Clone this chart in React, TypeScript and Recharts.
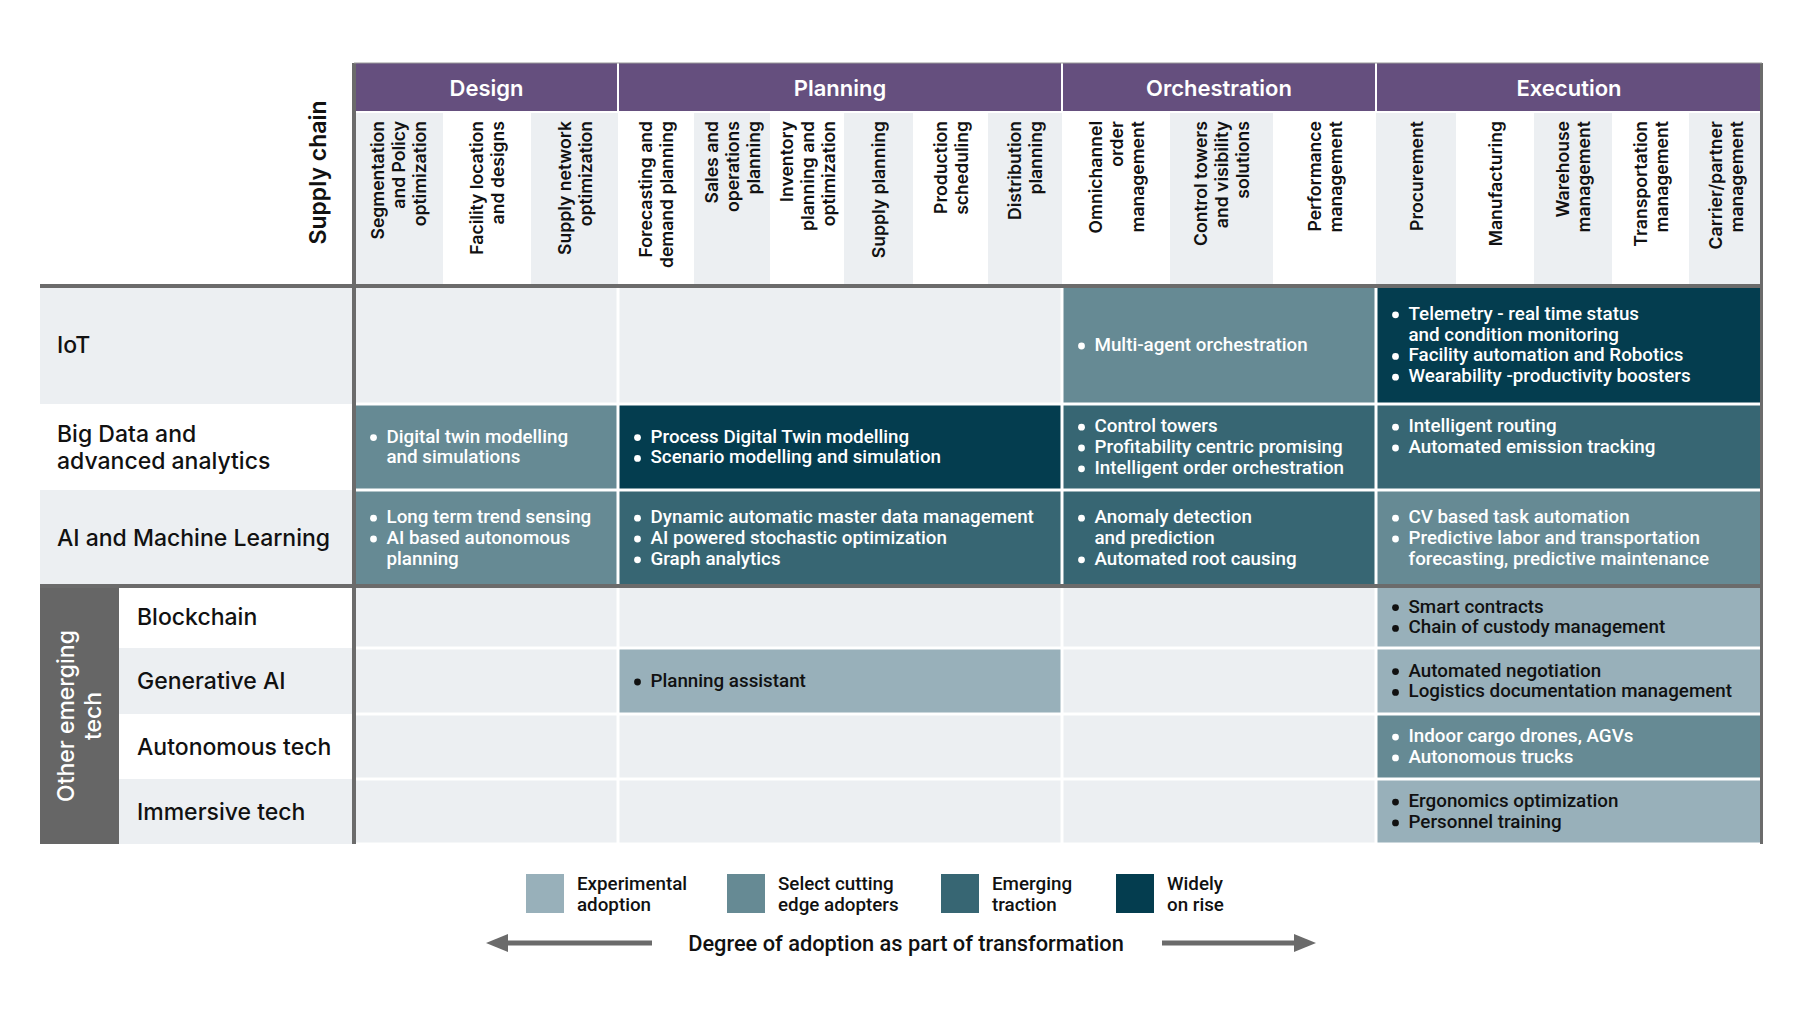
import { ComposedChart, XAxis, YAxis, ReferenceArea } from "recharts"

// ---- data ----
const stages = ["Design", "Planning", "Orchestration", "Execution"]

const capabilities = [
  ["Segmentation\nand  Policy\noptimization", "Facility location\nand designs", "Supply network\noptimization"],
  [
    "Forecasting and\ndemand planning",
    "Sales and\noperations\nplanning",
    "Inventory\nplanning and\noptimization",
    "Supply planning",
    "Production\nscheduling",
    "Distribution\nplanning",
  ],
  ["Omnichannel\norder\nmanagement", "Control towers\nand visibility\nsolutions", "Performance\nmanagement"],
  ["Procurement", "Manufacturing", "Warehouse\nmanagement", "Transportation\nmanagement", "Carrier/partner\nmanagement"],
]

const technologies = [
  "IoT",
  "Big Data and\nadvanced analytics",
  "AI and Machine Learning",
  "Blockchain",
  "Generative AI",
  "Autonomous tech",
  "Immersive tech",
]

const adoptionLevels = ["Experimental\nadoption", "Select cutting\nedge adopters", "Emerging\ntraction", "Widely\non rise"]

// 0 = none, 1..4 = adoption level
const adoption = [
  [0, 0, 2, 4],
  [2, 4, 3, 3],
  [2, 3, 3, 2],
  [0, 0, 0, 1],
  [0, 1, 0, 1],
  [0, 0, 0, 2],
  [0, 0, 0, 1],
]

const useCases: string[][][] = [
  [
    [],
    [],
    ["Multi-agent orchestration"],
    ["Telemetry - real time status\nand condition monitoring", "Facility automation and Robotics", "Wearability -productivity boosters"],
  ],
  [
    ["Digital twin modelling\nand simulations"],
    ["Process Digital Twin modelling", "Scenario modelling and simulation"],
    ["Control towers", "Profitability centric promising", "Intelligent order orchestration"],
    ["Intelligent routing", "Automated emission tracking"],
  ],
  [
    ["Long term trend sensing", "AI based autonomous\nplanning"],
    ["Dynamic automatic master data management", "AI powered stochastic optimization", "Graph analytics"],
    ["Anomaly detection\nand prediction", "Automated root causing"],
    ["CV based task automation", "Predictive labor and transportation\nforecasting, predictive maintenance"],
  ],
  [[], [], [], ["Smart contracts", "Chain of custody management"]],
  [[], ["Planning assistant"], [], ["Automated negotiation", "Logistics documentation management"]],
  [[], [], [], ["Indoor cargo drones, AGVs", "Autonomous trucks"]],
  [[], [], [], ["Ergonomics optimization", "Personnel training"]],
]

const cornerTitle = "Supply chain"
const groupTitle = "Other emerging\ntech"
const axisTitle = "Degree of adoption as part of transformation"

// ---- layout / styles ----
const W = 1800
const H = 1010
const STAGE_EDGES = [354, 618, 1062, 1376, 1762]
const SUB_EDGES = [
  [354, 443, 531, 618],
  [618, 694, 770, 844, 913, 988, 1062],
  [1062, 1170, 1273, 1376],
  [1376, 1456, 1534, 1612, 1689, 1762],
]
const ROW_EDGES = [286, 404, 490, 586, 648, 714, 779, 844]
const LEGEND_X = [526, 727, 941, 1116]

const LEVEL_COLORS = ["#ECEFF2", "#98B0BA", "#668A94", "#376673", "#043D4F"]
const PURPLE = "#654F7E"
const LINE = "#6B6B6B"
const LIGHT = "#ECEFF2"
const INK = "#111111"
const SANS = "Inter, 'Noto Sans', sans-serif"
const CELL_FONT = "Roboto, 'Noto Sans', sans-serif"
const LH = 20.8

type Box = { x?: number; y?: number; width?: number; height?: number }

const num = (v: unknown) => Number(v) || 0

function cellShape(level: number, items: string[], topAligned: boolean) {
  return (p: Box) => {
    const x = num(p.x)
    const y = num(p.y)
    const w = num(p.width)
    const h = num(p.height)
    const color = level === 1 ? INK : "#FFFFFF"
    const lines: { t: string; bullet: boolean }[] = []
    items.forEach((it) => it.split("\n").forEach((t, i) => lines.push({ t, bullet: i === 0 })))
    const n = topAligned ? 3 : lines.length
    const y0 = y + h / 2 - ((n - 1) * LH) / 2
    return (
      <g>
        <rect x={x} y={y} width={w} height={h} fill={LEVEL_COLORS[level]} />
        {lines.map((l, i) => (
          <g key={i}>
            {l.bullet && <circle cx={x + 18} cy={y0 + i * LH + 1} r={3.4} fill={color} />}
            <text
              x={x + 31}
              y={y0 + i * LH}
              dominantBaseline="central"
              fill={color}
              fontFamily={CELL_FONT}
              fontWeight={500}
              fontSize={18.8}
            >
              {l.t}
            </text>
          </g>
        ))}
      </g>
    )
  }
}

function rotatedLines(cx: number, cy: number, lines: string[], lh: number, anchor: "end" | "middle", style: object) {
  const n = lines.length
  return (
    <g transform={`translate(${cx},${cy}) rotate(-90)`}>
      {lines.map((t, i) => (
        <text key={i} x={0} y={(i - (n - 1) / 2) * lh} textAnchor={anchor} dominantBaseline="central" {...style}>
          {t}
        </text>
      ))}
    </g>
  )
}

function fillShape(fill: string) {
  return (p: Box) => <rect x={num(p.x)} y={num(p.y)} width={num(p.width)} height={num(p.height)} fill={fill} />
}

function App() {
  const areas: JSX.Element[] = []
  let k = 0

  // corner title
  areas.push(
    <ReferenceArea
      key={k++}
      x1={298}
      x2={338}
      y1={100}
      y2={245}
      ifOverflow="visible"
      shape={(p: Box) =>
        rotatedLines(num(p.x) + num(p.width) / 2, num(p.y) + num(p.height) / 2, [cornerTitle], 26, "middle", {
          fill: INK,
          fontFamily: SANS,
          fontWeight: 600,
          fontSize: 23,
        })
      }
    />
  )

  // stage headers
  stages.forEach((s, i) => {
    areas.push(
      <ReferenceArea
        key={k++}
        x1={STAGE_EDGES[i] + (i === 0 ? 2 : 1)}
        x2={STAGE_EDGES[i + 1] - 1}
        y1={63}
        y2={111}
        ifOverflow="visible"
        shape={(p: Box) => (
          <g>
            <rect x={num(p.x)} y={num(p.y)} width={num(p.width)} height={num(p.height)} fill={PURPLE} />
            <text
              x={num(p.x) + num(p.width) / 2}
              y={num(p.y) + num(p.height) / 2 + 1}
              textAnchor="middle"
              dominantBaseline="central"
              fill="#FFFFFF"
              fontFamily={SANS}
              fontWeight={600}
              fontSize={22}
            >
              {s}
            </text>
          </g>
        )}
      />
    )
  })

  // capability sub-headers
  let g = 0
  capabilities.forEach((caps, si) => {
    caps.forEach((c, ci) => {
      const fill = g % 2 === 0 ? LIGHT : "#FFFFFF"
      g++
      areas.push(
        <ReferenceArea
          key={k++}
          x1={SUB_EDGES[si][ci]}
          x2={SUB_EDGES[si][ci + 1]}
          y1={113}
          y2={284}
          ifOverflow="visible"
          shape={(p: Box) => (
            <g>
              <rect x={num(p.x)} y={num(p.y)} width={num(p.width)} height={num(p.height)} fill={fill} />
              {rotatedLines(num(p.x) + num(p.width) / 2, num(p.y) + 8, c.split("\n"), 21, "end", {
                fill: INK,
                fontFamily: SANS,
                fontWeight: 600,
                fontSize: 17.6,
              })}
            </g>
          )}
        />
      )
    })
  })

  // technology rows
  technologies.forEach((t, r) => {
    const y1 = ROW_EDGES[r]
    const y2 = ROW_EDGES[r + 1]
    const sub = r >= 3
    const fill = r % 2 === 0 ? LIGHT : "#FFFFFF"
    areas.push(
      <ReferenceArea
        key={k++}
        x1={sub ? 119 : 40}
        x2={352}
        y1={y1}
        y2={y2}
        ifOverflow="visible"
        shape={(p: Box) => {
          const lines = t.split("\n")
          const cy = num(p.y) + num(p.height) / 2
          return (
            <g>
              <rect x={num(p.x)} y={num(p.y)} width={num(p.width)} height={num(p.height)} fill={fill} />
              {lines.map((ln, i) => (
                <text
                  key={i}
                  x={num(p.x) + (sub ? 18 : 17)}
                  y={cy + (i - (lines.length - 1) / 2) * 27}
                  dominantBaseline="central"
                  fill={INK}
                  fontFamily={SANS}
                  fontWeight={500}
                  fontSize={23}
                >
                  {ln}
                </text>
              ))}
            </g>
          )
        }}
      />
    )
    stages.forEach((_, s) => {
      areas.push(
        <ReferenceArea
          key={k++}
          x1={STAGE_EDGES[s] + 1.5}
          x2={STAGE_EDGES[s + 1] - 1.5}
          y1={y1 + 1.5}
          y2={y2 - 1.5}
          ifOverflow="visible"
          shape={cellShape(adoption[r][s], useCases[r][s], r === 1 && s === 3)}
        />
      )
    })
  })

  // other emerging tech group block
  areas.push(
    <ReferenceArea
      key={k++}
      x1={40}
      x2={119}
      y1={588}
      y2={844}
      ifOverflow="visible"
      shape={(p: Box) => (
        <g>
          <rect x={num(p.x)} y={num(p.y)} width={num(p.width)} height={num(p.height)} fill="#666666" />
          {rotatedLines(num(p.x) + num(p.width) / 2, num(p.y) + num(p.height) / 2, groupTitle.split("\n"), 27, "middle", {
            fill: "#FFFFFF",
            fontFamily: SANS,
            fontWeight: 500,
            fontSize: 23,
          })}
        </g>
      )}
    />
  )

  // grid rules
  const rules = [
    { x1: 352, x2: 356, y1: 63, y2: 844 },
    { x1: 40, x2: 1762, y1: 284, y2: 288 },
    { x1: 40, x2: 1762, y1: 584, y2: 588 },
    { x1: 1760, x2: 1763, y1: 63, y2: 844 },
  ]
  rules.forEach((r) =>
    areas.push(<ReferenceArea key={k++} {...r} ifOverflow="visible" shape={fillShape(LINE)} />)
  )
  areas.push(
    <ReferenceArea key={k++} x1={354} x2={1762} y1={62.5} y2={63.5} ifOverflow="visible" shape={fillShape("#9A9A9A")} />
  )

  // legend
  adoptionLevels.forEach((lbl, i) => {
    areas.push(
      <ReferenceArea
        key={k++}
        x1={LEGEND_X[i]}
        x2={LEGEND_X[i] + 38}
        y1={874}
        y2={913}
        ifOverflow="visible"
        shape={(p: Box) => (
          <g>
            <rect x={num(p.x)} y={num(p.y)} width={num(p.width)} height={num(p.height)} fill={LEVEL_COLORS[i + 1]} />
            {lbl.split("\n").map((ln, j) => (
              <text
                key={j}
                x={num(p.x) + 51}
                y={num(p.y) + 10 + j * 21}
                dominantBaseline="central"
                fill={INK}
                fontFamily={CELL_FONT}
                fontWeight={500}
                fontSize={18.8}
              >
                {ln}
              </text>
            ))}
          </g>
        )}
      />
    )
  })

  // adoption axis with arrows
  areas.push(
    <ReferenceArea
      key={k++}
      x1={486}
      x2={1316}
      y1={930}
      y2={956}
      ifOverflow="visible"
      shape={(p: Box) => {
        const x = num(p.x)
        const w = num(p.width)
        const cy = num(p.y) + num(p.height) / 2
        const right = x + w
        return (
          <g>
            <rect x={x + 20} y={cy - 2.5} width={146} height={5} fill={LINE} />
            <polygon points={`${x},${cy} ${x + 22},${cy - 9} ${x + 22},${cy + 9}`} fill={LINE} />
            <rect x={right - 154} y={cy - 2.5} width={134} height={5} fill={LINE} />
            <polygon points={`${right},${cy} ${right - 22},${cy - 9} ${right - 22},${cy + 9}`} fill={LINE} />
            <text
              x={906}
              y={cy}
              textAnchor="middle"
              dominantBaseline="central"
              fill={INK}
              fontFamily={CELL_FONT}
              fontWeight={500}
              fontSize={21.8}
            >
              {axisTitle}
            </text>
          </g>
        )
      }}
    />
  )

  return (
    <div style={{ position: "absolute", left: 0, top: 0, width: W, height: H, background: "#FFFFFF" }}>
      <ComposedChart width={W} height={H} margin={{ top: 0, right: 0, bottom: 0, left: 0 }}>
        <XAxis type="number" dataKey="x" domain={[0, W]} hide allowDataOverflow />
        <YAxis type="number" dataKey="y" domain={[0, H]} hide reversed allowDataOverflow />
        {areas}
      </ComposedChart>
    </div>
  )
}

export default App
